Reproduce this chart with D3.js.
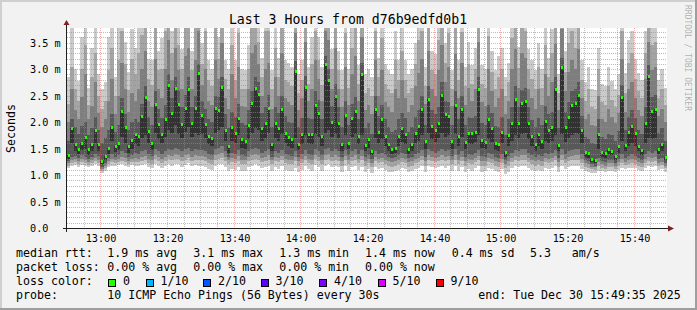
<!DOCTYPE html>
<html><head><meta charset="utf-8">
<script src="https://cdn.jsdelivr.net/npm/d3@7"></script>
<style>
html,body{margin:0;padding:0;background:#f2f2f2;}
svg{display:block;}
text{font-family:"DejaVu Sans Mono",monospace;fill:#000;}
</style></head><body>
<svg id="c" width="697" height="310"></svg>
<script>
// ---------------- data ----------------
const title = "Last 3 Hours from d76b9edfd0b1";
const yLabel = "Seconds";
const watermark = "RRDTOOL / TOBI OETIKER";
const startTime = new Date(2025, 11, 30, 12, 50, 0);
const endTime = new Date(2025, 11, 30, 15, 50, 0);
const stepSeconds = 60;
const yMax = 3.778; // ms
const yMajorValues = [0, 0.5, 1.0, 1.5, 2.0, 2.5, 3.0, 3.5];
const yTickLabels = ["0.0", "0.5 m", "1.0 m", "1.5 m", "2.0 m", "2.5 m", "3.0 m", "3.5 m"];
const xTickLabels = ["13:00", "13:20", "13:40", "14:00", "14:20", "14:40", "15:00", "15:20", "15:40"];

// sorted ping RTTs per step, in 0.01 ms (p1 = fastest ... p10 = slowest), median = p6
const p1 = [114,117,119,116,119,117,115,118,121,118, 104,108,115,118,117,119,120,118,116,119, 118,117,119,120,115,113,121,118,114,117, 120,118,121,120,116,119,122,117,119,118, 118,115,111,109,118,120,121,115,108,112, 110,116,108,108,115,118,120,118,113,115, 118,108,115,112,117,110,107,108,114,106, 110,117,111,108,119,115,108,118,120,116, 118,115,106,117,108,115,118,110,116,106, 111,104,115,111,113,109,106,105,107,109, 113,111,105,107,111,113,117,106,118,115, 113,115,118,114,117,108,118,108,115,106, 111,108,113,117,106,107,113,111,107,105, 111,102,106,113,117,115,118,118,113,109, 107,109,107,113,111,113,117,105,118,111, 115,117,118,118,111,108,106,104,103,108, 107,105,108,108,105,110,114,111,113,114, 113,110,108,114,117,116,117,110,112,106];
const p2 = [118,122,124,120,124,122,119,122,126,122, 108,113,120,124,122,124,127,125,121,124, 125,124,127,128,123,121,130,127,123,127, 130,128,131,130,126,129,132,127,129,128, 128,126,122,120,129,131,132,126,120,124, 122,127,120,120,126,129,131,129,124,126, 129,120,126,124,128,122,120,120,126,118, 122,128,122,120,130,126,120,129,131,127, 129,126,118,128,120,126,129,122,128,118, 122,115,126,122,124,120,118,116,118,120, 124,122,116,118,122,124,128,118,129,126, 124,126,129,126,128,120,129,120,126,118, 122,120,124,128,118,118,124,122,118,116, 122,113,118,124,128,126,129,129,124,120, 118,120,118,124,122,124,128,116,129,122, 126,128,129,129,122,116,114,111,110,117, 114,112,116,116,112,118,123,119,121,123, 121,118,116,123,126,125,126,117,119,113];
const p3 = [122,128,130,126,130,128,124,128,132,128, 112,118,126,130,128,130,134,132,127,130, 132,130,134,136,130,128,138,134,130,134, 138,136,140,138,134,138,140,135,138,136, 136,134,130,128,138,140,142,134,128,132, 130,136,128,128,134,138,140,138,132,134, 138,128,134,132,136,130,128,128,134,126, 130,136,130,128,138,134,128,138,140,135, 138,134,126,136,128,134,138,130,136,126, 130,122,134,130,132,128,126,124,126,128, 132,130,124,126,130,132,136,126,138,134, 132,134,138,134,136,128,138,128,134,126, 130,128,132,136,126,126,132,130,126,124, 130,120,126,132,136,134,138,138,132,128, 126,128,126,132,130,132,136,124,138,130, 134,136,138,138,130,122,120,116,115,124, 120,118,122,122,117,124,130,125,128,130, 128,124,122,130,134,132,134,123,125,118];
const p4 = [126,135,136,132,138,135,130,134,140,136, 115,122,132,140,135,138,145,142,134,138, 142,140,145,148,140,136,150,145,140,146, 150,148,152,150,145,150,152,146,150,148, 148,145,140,138,150,152,155,145,135,142, 140,148,138,136,145,150,152,150,142,145, 150,135,145,142,148,140,138,136,145,135, 140,148,140,138,150,145,138,150,152,146, 150,145,135,148,138,145,150,140,148,135, 138,130,145,140,142,138,135,132,134,138, 142,140,132,135,140,142,148,135,150,145, 142,145,150,146,148,136,150,138,145,135, 140,138,142,148,136,135,142,140,134,132, 140,128,136,142,148,145,150,150,142,138, 134,138,136,142,140,142,148,132,150,140, 145,148,150,150,140,128,126,120,118,132, 126,124,128,128,122,130,140,132,136,140, 136,132,128,140,145,142,145,130,132,122];
const p5 = [130,160,145,140,148,150,138,145,160,146, 120,128,140,165,143,148,172,160,142,150, 158,155,170,175,160,148,180,168,160,172, 185,180,195,178,170,182,190,172,180,175, 178,170,158,155,180,185,190,165,142,165, 160,175,152,150,168,180,188,185,165,170, 180,145,170,165,178,160,155,152,170,148, 158,175,160,158,178,172,155,180,185,172, 178,170,145,175,150,172,178,158,175,145, 152,138,170,160,168,155,145,140,142,155, 162,158,140,145,160,165,175,150,180,168, 162,170,180,172,175,150,178,155,172,150, 160,158,162,175,152,150,168,162,148,145, 160,135,155,165,175,170,178,180,168,155, 145,155,150,165,160,165,175,145,178,162, 170,175,180,178,160,135,132,124,122,150, 135,132,140,138,128,142,165,145,155,160, 155,145,138,160,170,168,170,140,145,128];
const median = [138,188,158,150,160,172,149,158,185,158, 127,136,151,191,155,160,221,190,155,166, 177,173,211,248,183,161,235,197,177,206, 271,217,264,235,197,227,263,198,226,292, 213,196,173,170,227,223,266,185,155,191, 179,208,168,164,194,236,265,254,189,199, 227,158,199,188,225,180,171,168,296,158, 177,266,177,177,233,217,174,309,280,200, 249,199,158,213,161,208,221,174,290,156, 168,146,225,181,206,174,158,150,152,174, 189,177,150,158,180,193,225,164,243,193, 186,198,252,215,211,164,233,174,225,163, 180,179,181,263,166,163,206,189,160,158, 181,144,175,199,243,199,236,240,199,173, 158,177,164,202,185,191,263,156,304,191, 210,232,236,252,185,144,141,131,129,177, 144,141,150,146,136,154,248,156,181,193, 179,155,148,199,288,221,225,150,158,135];
const p7 = [165,205,190,178,192,200,176,188,210,185, 160,170,185,215,182,195,245,215,185,200, 205,200,235,268,210,195,258,225,208,232, 290,245,285,260,228,252,285,228,250,310, 240,225,205,200,250,248,285,215,188,220, 210,235,198,195,222,258,285,275,218,228, 252,190,228,218,250,212,200,198,315,190, 208,288,208,206,258,242,205,325,300,230, 272,228,190,240,195,235,248,205,312,188, 198,178,250,212,232,205,190,182,185,205, 218,208,182,190,210,222,250,195,268,222, 215,228,275,240,238,195,258,205,250,194, 210,208,212,285,198,194,232,218,192,190, 210,175,205,228,268,228,260,265,228,204, 190,208,195,230,215,220,285,188,322,220, 238,258,262,275,212,172,168,160,158,205, 172,168,178,175,165,184,270,186,210,222, 208,185,178,228,308,248,252,180,188,165];
const p8 = [200,262,222,205,248,290,205,230,275,218, 190,205,240,282,215,250,312,262,220,255, 240,262,300,335,240,228,320,262,245,300, 355,280,340,298,262,325,340,262,318,372, 270,300,240,232,318,282,350,245,225,290, 245,305,230,228,262,330,345,310,250,300, 312,225,285,250,330,245,238,232,368,222, 245,352,240,262,318,282,240,372,355,262, 340,262,228,305,232,290,325,240,360,222, 232,215,318,250,298,238,228,220,262,245, 280,245,220,232,268,292,320,235,335,262, 250,298,345,275,305,230,328,245,312,232, 265,240,262,352,238,230,300,258,228,245, 262,215,240,300,338,265,330,322,262,245, 225,262,232,290,250,275,348,222,375,258, 295,318,300,338,245,205,215,195,192,250, 205,200,225,210,198,218,320,220,262,275, 245,222,212,282,352,298,305,212,225,200];
const p9 = [235,305,262,240,300,345,232,285,330,250, 225,240,298,340,250,318,372,310,260,320, 290,330,365,392,282,270,380,298,300,372, 405,330,395,345,300,390,392,298,378,415, 310,372,280,268,380,320,402,282,262,345, 280,368,262,262,300,385,395,352,285,372, 372,262,340,285,388,280,275,268,412,255, 280,405,272,310,372,318,270,418,402,300, 392,298,262,368,265,340,380,272,410,255, 265,250,372,285,358,272,262,255,318,280, 335,280,255,265,310,355,372,268,388,298, 290,355,395,312,368,262,380,280,370,268, 310,272,300,398,272,265,362,295,262,285, 300,250,275,358,390,302,385,372,300,282, 262,305,265,345,285,330,395,255,420,295, 350,372,340,392,280,240,262,228,225,300, 238,232,268,242,228,252,372,255,312,330, 282,258,245,330,398,345,352,245,262,232];
const p10 = [285,380,300,278,360,395,265,340,390,290, 262,275,360,390,285,380,420,352,295,375, 340,395,410,440,320,318,430,335,358,420, 450,372,440,390,338,445,430,335,425,460, 350,420,318,300,430,360,450,318,300,395, 318,415,300,298,345,430,440,395,322,420, 420,298,395,322,440,318,312,305,455,290, 318,450,305,360,420,360,305,462,445,338, 440,335,298,415,300,390,430,308,455,290, 300,285,420,322,405,310,298,290,372,318, 385,318,290,300,350,400,420,305,430,335, 328,400,440,350,415,298,425,318,415,305, 352,308,340,445,308,300,410,335,298,325, 340,285,312,405,435,342,430,415,338,318, 298,350,300,392,322,375,440,290,465,335, 395,420,380,440,318,275,305,262,260,340, 272,268,305,278,262,290,415,292,355,372, 320,292,280,372,445,390,398,280,300,265];

const legendRtt = [["median rtt:", 16], ["1.9 ms avg", 107.3], ["3.1 ms max", 193.3], ["1.3 ms min", 279.3], ["1.4 ms now", 365], ["0.4 ms sd", 451.7], ["5.3", 530], ["am/s", 571.7]];
const legendLoss = [["packet loss:", 16], ["0.00 % avg", 107.3], ["0.00 % max", 193.3], ["0.00 % min", 279.3], ["0.00 % now", 365]];
const lossLabels = ["0", "1/10", "2/10", "3/10", "4/10", "5/10", "9/10"];
const lossColors = ["#26ff00", "#00b8ff", "#0059ff", "#5e00ff", "#7e00ff", "#dd00ff", "#ff0000"];
const lossBoxX = [108.5, 146, 203.5, 261, 319.5, 378, 436];
const probeText = "10 ICMP Echo Pings (56 Bytes) every 30s";
const endText = "end: Tue Dec 30 15:49:35 2025";

// ---------------- drawing ----------------
const svg = d3.select("#c");
const W = 697, H = 310;
const X0 = 67, X1 = 667, Y0 = 228, Y1 = 28;

svg.append("rect").attr("x", 0).attr("y", 0).attr("width", W).attr("height", H).attr("fill", "#f2f2f2");
svg.append("rect").attr("x", 0).attr("y", 0).attr("width", W).attr("height", 2).attr("fill", "#cfcfcf");
svg.append("rect").attr("x", 0).attr("y", 0).attr("width", 2).attr("height", H).attr("fill", "#cfcfcf");
svg.append("rect").attr("x", 0).attr("y", H - 2).attr("width", W).attr("height", 2).attr("fill", "#9e9e9e");
svg.append("rect").attr("x", W - 2).attr("y", 0).attr("width", 2).attr("height", H).attr("fill", "#9e9e9e");

const x = d3.scaleTime().domain([startTime, endTime]).range([X0, X1]);
const y = d3.scaleLinear().domain([0, yMax]).range([Y0, Y1]);

svg.append("rect").attr("x", X0).attr("y", Y1).attr("width", X1 - X0).attr("height", Y0 - Y1).attr("fill", "#fff");
svg.append("clipPath").attr("id", "plotclip").append("rect")
  .attr("x", X0).attr("y", Y1).attr("width", X1 - X0).attr("height", Y0 - Y1 + 0.5);

const n = median.length;
const t = i => new Date(startTime.getTime() + i * stepSeconds * 1000);
const smoke = svg.append("g").attr("clip-path", "url(#plotclip)").attr("shape-rendering", "crispEdges");
const bands = [[p1, p10, "#cacaca"], [p2, p9, "#a4a4a4"], [p3, p8, "#7e7e7e"], [p4, p7, "#585858"], [p5, median, "#323232"]];
bands.forEach(([lo, hi, col]) => {
  smoke.append("g").selectAll("rect").data(d3.range(n)).join("rect")
    .attr("x", i => Math.round(x(t(i))))
    .attr("width", i => Math.round(x(t(i + 1))) - Math.round(x(t(i))))
    .attr("y", i => Math.round(y(Math.max(lo[i], hi[i]) / 100)))
    .attr("height", i => Math.max(1, Math.round(y(Math.min(lo[i], hi[i]) / 100)) - Math.round(y(Math.max(lo[i], hi[i]) / 100))))
    .attr("fill", col);
});
smoke.append("g").selectAll("rect").data(d3.range(n)).join("rect")
  .attr("x", i => Math.round(x(t(i))) + 1)
  .attr("width", 2)
  .attr("y", i => Math.round(y(median[i] / 100)) - 1)
  .attr("height", 3)
  .attr("fill", lossColors[0]);

// grid (drawn over the data)
const grid = svg.append("g").attr("shape-rendering", "crispEdges");
const minorTimes = d3.timeMinute.every(5).range(startTime, endTime).filter(d => d > startTime);
minorTimes.forEach(d => {
  const major = d.getMinutes() % 20 === 0;
  const px = Math.round(x(d)) + 0.5;
  grid.append("line").attr("x1", px).attr("x2", px).attr("y1", Y1).attr("y2", Y0)
    .attr("stroke", major ? "rgba(222,79,79,0.45)" : "rgba(143,143,143,0.6)")
    .attr("stroke-dasharray", "1,1");
});
d3.range(1, Math.floor(yMax * 10) + 1).forEach(k => {
  const v = k / 10;
  const major = k % 5 === 0;
  const py = Math.round(y(v)) + 0.5;
  grid.append("line").attr("x1", X0).attr("x2", X1).attr("y1", py).attr("y2", py)
    .attr("stroke", major ? "rgba(222,79,79,0.45)" : "rgba(143,143,143,0.6)")
    .attr("stroke-dasharray", "1,1");
});

// axes
const axisG = svg.append("g").attr("shape-rendering", "crispEdges");
axisG.append("line").attr("x1", X0 - 4).attr("x2", X1 + 4).attr("y1", Y0 + 0.5).attr("y2", Y0 + 0.5).attr("stroke", "#1f1f1f");
axisG.append("line").attr("x1", X0 - 0.5).attr("x2", X0 - 0.5).attr("y1", Y0 + 4).attr("y2", Y1 - 4).attr("stroke", "#1f1f1f");
svg.append("path").attr("d", `M${X1 + 1},${Y0 - 2.5}L${X1 + 7},${Y0 + 0.5}L${X1 + 1},${Y0 + 3.5}Z`).attr("fill", "#801f1f");
svg.append("path").attr("d", `M${X0 - 3.5},${Y1 - 3}L${X0 - 0.5},${Y1 - 8}L${X0 + 2.5},${Y1 - 3}Z`).attr("fill", "#801f1f");

// tick labels
svg.append("g").selectAll("text").data(yMajorValues).join("text")
  .attr("x", 30).attr("y", v => Math.round(y(v)) + 4)
  .attr("font-size", "10.2px").text((v, i) => yTickLabels[i]);
const xMajor = minorTimes.filter(d => d.getMinutes() % 20 === 0);
svg.append("g").selectAll("text").data(xMajor).join("text")
  .attr("x", d => Math.round(x(d)) + 1).attr("y", 242).attr("text-anchor", "middle")
  .attr("font-size", "10.2px").text((d, i) => xTickLabels[i]);

// title, unit, watermark
svg.append("text").attr("x", 348).attr("y", 24).attr("text-anchor", "middle").attr("font-size", "13.2px").text(title);
svg.append("text").attr("transform", "translate(15,128.5) rotate(-90)").attr("text-anchor", "middle").attr("font-size", "11.6px").text(yLabel);
svg.append("text").attr("transform", "translate(685,5) rotate(90)").attr("font-size", "8px").attr("fill-opacity", 0.3).text(watermark);

// legend
const lg = svg.append("g").attr("font-size", "11.6px").attr("xml:space", "preserve");
legendRtt.forEach(([s, px]) => lg.append("text").attr("x", px).attr("y", 257).text(s));
legendLoss.forEach(([s, px]) => lg.append("text").attr("x", px).attr("y", 271).text(s));
lg.append("text").attr("x", 16).attr("y", 285).text("loss color:");
lossLabels.forEach((s, i) => {
  lg.append("rect").attr("x", lossBoxX[i]).attr("y", 279.5).attr("width", 7).attr("height", 7)
    .attr("fill", lossColors[i]).attr("stroke", "#000").attr("shape-rendering", "crispEdges");
  lg.append("text").attr("x", lossBoxX[i] + 14.5).attr("y", 285).text(s);
});
lg.append("text").attr("x", 16).attr("y", 299).text("probe:");
lg.append("text").attr("x", 107.3).attr("y", 299).text(probeText);
lg.append("text").attr("x", 478.3).attr("y", 299).text(endText);
</script>
</body></html>
